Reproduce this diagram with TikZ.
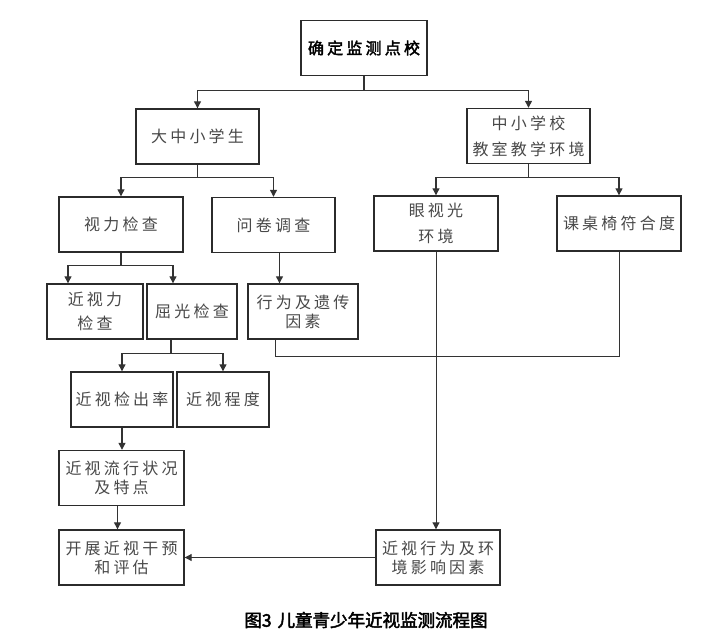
\documentclass[tikz,border=0pt]{standalone}
\usepackage{fontspec}
\usepackage{xcolor}
\newfontfamily\cjk[LetterSpace=20,AutoFakeBold=2.5]{Noto Sans CJK SC}
\newfontfamily\cjkcap[AutoFakeBold=2.5]{Noto Sans CJK SC}
\usetikzlibrary{arrows.meta}
\definecolor{boxline}{HTML}{2B2B2B}
\definecolor{boxtext}{HTML}{484848}
\definecolor{wire}{HTML}{333333}

\tikzset{
  box/.style={draw=boxline, line width=1.4pt, rectangle, inner sep=0pt,
    minimum height=55pt, align=center, text=boxtext,
    font=\cjk\fontsize{16pt}{26pt}\selectfont},
  tight/.style={font=\cjk\fontsize{16pt}{19pt}\selectfont},
}

\begin{document}
\begin{tikzpicture}[x=1pt, y=-1pt, line width=1.2pt, draw=wire,
  >={Triangle[width=7pt,length=7pt]}]

\useasboundingbox (0,0) rectangle (714,631);

\node[box, minimum width=126pt, text=black, font=\cjk\fontsize{16pt}{26pt}\selectfont\bfseries] (top) at (364,48) {确定监测点校};
\node[box, minimum width=123pt] (stu) at (197.5,136.5) {大中小学生};
\node[box, minimum width=123pt] (sch) at (528.5,136) {中小学校\\教室教学环境};
\node[box, minimum width=124pt] (eye) at (121,224.5) {视力检查};
\node[box, minimum width=123pt] (que) at (273.5,225) {问卷调查};
\node[box, minimum width=124pt] (light) at (436,223.5) {眼视光\\环境};
\node[box, minimum width=124pt] (desk) at (619,223.5) {课桌椅符合度};
\node[box, minimum width=96pt, font=\cjk\fontsize{16pt}{24pt}\selectfont] (far) at (95,311.5) {近视力\\检查};
\node[box, minimum width=90pt] (refr) at (192,311.5) {屈光检查};
\node[box, tight, minimum width=110pt] (behav) at (303,311.5) {行为及遗传\\因素};
\node[box, minimum width=102pt] (rate) at (122,399.5) {近视检出率};
\node[box, minimum width=92pt] (degree) at (223,399.5) {近视程度};
\node[box, tight, minimum width=125pt] (trend) at (121.5,478) {近视流行状况\\及特点};
\node[box, tight, minimum width=125pt] (interv) at (121.5,557.5) {开展近视干预\\和评估};
\node[box, tight, minimum width=124pt] (envf) at (438,557.5) {近视行为及环\\境影响因素};

\draw[->] (top.south) -- ++(0,14) coordinate (j0) -| (stu.north);
\draw[->] (j0) -| (sch.north);

\draw[->] (stu.south) -- ++(0,13) coordinate (j1) -| (eye.north);
\draw[->] (j1) -| (que.north);

\draw[->] (sch.south) -- ++(0,13) coordinate (j2) -| (light.north);
\draw[->] (j2) -| (desk.north);

\draw[->] (eye.south) -- ++(0,13) coordinate (j3) -| ([xshift=-27pt]far.north);
\draw[->] (j3) -| ([xshift=-19pt]refr.north);

\draw[->] ([xshift=6pt]que.south) -- ([xshift=6pt]que.south |- behav.north);

\draw[->] ([xshift=-21pt]refr.south) -- ++(0,14) coordinate (j4) -| (rate.north);
\draw[->] (j4) -| (degree.north);

\draw[->] (rate.south) -- (rate.south |- trend.north);
\draw[->] ([xshift=-4pt]trend.south) -- ([xshift=-4pt]trend.south |- interv.north);

\draw[line width=1pt] ([xshift=-28pt]behav.south) -- ++(0,17) -| (desk.south);
\draw[->, line width=1pt] (light.south) -- (light.south |- envf.north);
\draw[->, line width=1pt] (envf.west) -- (envf.west -| interv.east);

\node[font=\cjkcap\fontsize{17.5pt}{20pt}\selectfont\bfseries, text=black] (cap) at (366,620) {图3\hspace{6pt}儿童青少年近视监测流程图};

\end{tikzpicture}
\end{document}
